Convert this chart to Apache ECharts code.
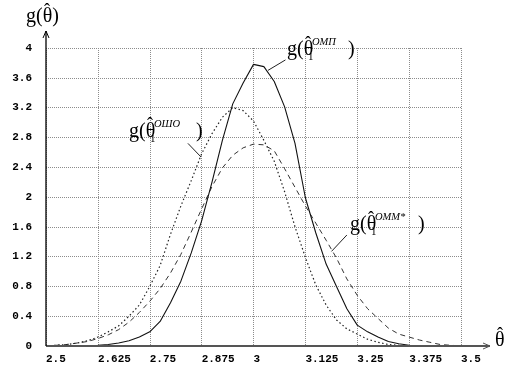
<!DOCTYPE html>
<html>
<head>
<meta charset="utf-8">
<script src="https://cdn.jsdelivr.net/npm/echarts@6/dist/echarts.min.js"></script>
<style>html,body{margin:0;padding:0;background:#fff}#c{width:524px;height:372px}</style>
</head>
<body>
<div id="c"></div>
<script>
// θ values (x positions of the sampled curves)
const thetaValues = [2.5, 2.525, 2.55, 2.575, 2.6, 2.625, 2.65, 2.675, 2.7, 2.725, 2.75, 2.775, 2.8, 2.825, 2.85, 2.875, 2.9, 2.925, 2.95, 2.975, 3.0, 3.025, 3.05, 3.075, 3.1, 3.125, 3.15, 3.175, 3.2, 3.225, 3.25, 3.275, 3.3, 3.325, 3.35, 3.375, 3.4, 3.425, 3.45, 3.475, 3.5];
// g(θ̂1 ОМП) – solid
const gOMP = [0, 0, 0, 0, 0.005, 0.01, 0.02, 0.04, 0.07, 0.12, 0.19, 0.33, 0.58, 0.87, 1.25, 1.68, 2.2, 2.76, 3.25, 3.53, 3.78, 3.75, 3.55, 3.21, 2.72, 1.99, 1.52, 1.1, 0.8, 0.5, 0.28, 0.19, 0.12, 0.06, 0.03, 0.01, 0, 0, 0, 0, 0];
// g(θ̂1 ОШО) – dotted
const gOSHO = [0, 0.01, 0.02, 0.04, 0.07, 0.12, 0.19, 0.27, 0.4, 0.55, 0.8, 1.08, 1.5, 1.88, 2.22, 2.58, 2.85, 3.07, 3.2, 3.16, 3.02, 2.76, 2.48, 2.07, 1.6, 1.19, 0.82, 0.55, 0.35, 0.23, 0.16, 0.09, 0.05, 0.02, 0.01, 0, 0, 0, 0, 0, 0];
// g(θ̂1 ОММ*) – dashed
const gOMM = [0, 0.01, 0.02, 0.04, 0.06, 0.1, 0.15, 0.22, 0.32, 0.45, 0.6, 0.77, 0.98, 1.23, 1.53, 1.84, 2.14, 2.39, 2.56, 2.66, 2.71, 2.7, 2.62, 2.38, 2.13, 1.88, 1.65, 1.42, 1.18, 0.9, 0.68, 0.5, 0.37, 0.24, 0.16, 0.12, 0.08, 0.05, 0.02, 0.01, 0];
// tick labels
const xTickLabels = ['2.5', '2.625', '2.75', '2.875', '3', '3.125', '3.25', '3.375', '3.5'];
const yTickLabels = ['0', '0.4', '0.8', '1.2', '1.6', '2', '2.4', '2.8', '3.2', '3.6', '4'];

const chart = echarts.init(document.getElementById('c'), null, {renderer: 'canvas'});
const labelFont = {fontFamily: '"Liberation Mono", monospace', fontWeight: 'bold', fontSize: 11, color: '#000'};
const gridLine = {show: true, lineStyle: {color: '#8c8c8c', width: 1, type: [1, 1]}};

function pairs(ys) { return thetaValues.map((t, i) => [t, ys[i]]); }

chart.setOption({
  animation: false,
  backgroundColor: '#fff',
  grid: {left: 46, right: 63, top: 48, bottom: 26, containLabel: false},
  xAxis: {
    type: 'value', min: 2.5, max: 3.5, interval: 0.125,
    axisLine: {show: false}, axisTick: {show: false},
    splitLine: gridLine,
    axisLabel: Object.assign({margin: 8, align: 'left', showMinLabel: true, showMaxLabel: true,
      formatter: (v) => { const i = Math.round((v - 2.5) / 0.125); return xTickLabels[i] ?? ''; }}, labelFont)
  },
  yAxis: {
    type: 'value', min: 0, max: 4, interval: 0.4,
    axisLine: {show: false}, axisTick: {show: false},
    splitLine: gridLine,
    axisLabel: Object.assign({margin: 14,
      formatter: (v) => { const i = Math.round(v / 0.4); return yTickLabels[i] ?? ''; }}, labelFont)
  },
  series: [
    {name: 'ОМП', type: 'line', data: pairs(gOMP), showSymbol: false, symbol: 'none',
     lineStyle: {color: '#111', width: 1.1, type: 'solid'}, z: 5},
    {name: 'ОШО', type: 'line', data: pairs(gOSHO), showSymbol: false, symbol: 'none',
     lineStyle: {color: '#222', width: 1.2, type: [1.5, 2.5]}, z: 4},
    {name: 'ОММ*', type: 'line', data: pairs(gOMM), showSymbol: false, symbol: 'none',
     lineStyle: {color: '#333', width: 1, type: [5, 4]}, z: 3}
  ]
});

function px(pt) { return chart.convertToPixel({gridIndex: 0}, pt); }
function txt(x, base, str, size, opts) {
  opts = opts || {};
  const font = (opts.italic ? 'italic ' : '') + size + 'px "Liberation Serif", serif';
  return {type: 'text', x: x, y: base - 0.34 * size, silent: true, z: 20,
    style: {text: str, font: font, fill: '#000', align: opts.align || 'left', textAlign: opts.align || 'left',
            verticalAlign: 'middle', textVerticalAlign: 'middle'}};
}
function hat(cx, base) { return txt(cx, base - 7, 'ˆ', 18, {align: 'center'}); }
function formula(anchor, sup, closeDx) {
  const p = px(anchor); const x0 = p[0], base = p[1];
  return [
    txt(x0, base, 'g(θ', 20),
    hat(x0 + 21, base),
    txt(x0 + 21, base + 4, '1', 11),
    txt(x0 + 25, base - 11, sup, 10.5, {italic: true}),
    txt(x0 + closeDx, base, ')', 20)
  ];
}
function leader(a, b) {
  const p = px(a), q = px(b);
  return {type: 'line', silent: true, z: 20, shape: {x1: p[0], y1: p[1], x2: q[0], y2: q[1]},
          style: {stroke: '#222', lineWidth: 1}};
}

const o = px([2.5, 0]);
const xEnd = px([3.5, 0])[0] + 29;
const yTop = px([2.5, 4])[1] - 17;

const g = [
  // axes with arrows
  {type: 'line', silent: true, z: 10, shape: {x1: o[0], y1: o[1], x2: xEnd, y2: o[1]}, style: {stroke: '#555', lineWidth: 2}},
  {type: 'polyline', silent: true, z: 10, shape: {points: [[xEnd - 7, o[1] - 3], [xEnd, o[1]], [xEnd - 7, o[1] + 3]]}, style: {stroke: '#555', lineWidth: 1, fill: null}},
  {type: 'line', silent: true, z: 10, shape: {x1: o[0], y1: o[1], x2: o[0], y2: yTop}, style: {stroke: '#000', lineWidth: 1.3}},
  {type: 'polyline', silent: true, z: 10, shape: {points: [[o[0] - 3, yTop + 7], [o[0], yTop], [o[0] + 3, yTop + 7]]}, style: {stroke: '#000', lineWidth: 1, fill: null}},
  // axis titles
  txt(o[0] - 20, yTop - 7, 'g(θ)', 20),
  hat(o[0] - 20 + 21, yTop - 7),
  txt(xEnd + 5, o[1] + 2, 'θ', 20),
  hat(xEnd + 10, o[1] + 2),
  // curve labels
  ...formula([3.0807, 3.879], 'ОМП', 61),
  leader([3.035, 3.70], [3.077, 3.84]),
  ...formula([2.7, 2.785], 'ОШО', 67),
  leader([2.8735, 2.537], [2.842, 2.72]),
  ...formula([3.2325, 1.53], 'ОММ*', 68),
  leader([3.188, 1.27], [3.225, 1.49])
];
chart.setOption({graphic: {elements: g}});
</script>
</body>
</html>
